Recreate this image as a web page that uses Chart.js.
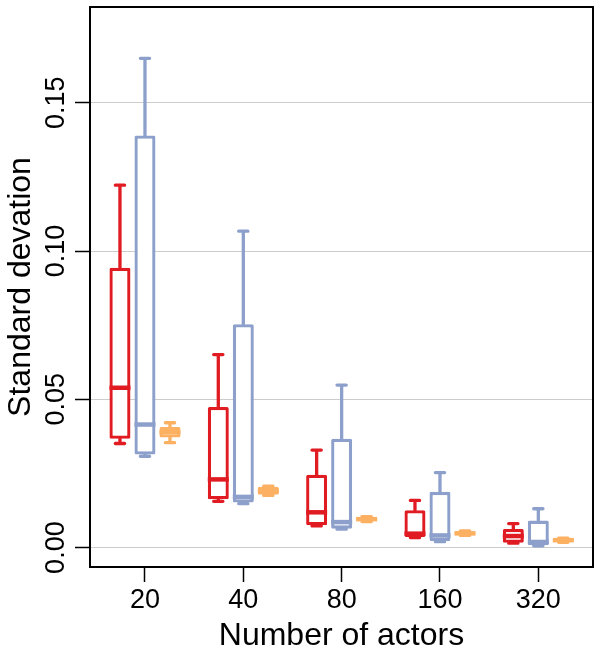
<!DOCTYPE html>
<html>
<head>
<meta charset="utf-8">
<script src="https://cdn.jsdelivr.net/npm/chart.js@4"></script>
<style>
  html, body { margin: 0; padding: 0; background: #ffffff; }
  #wrap { width: 600px; height: 659px; }
</style>
</head>
<body>
<div id="wrap"><canvas id="sdChart" width="600" height="659"></canvas></div>
<script>
var categories = ['20', '40', '80', '160', '320'];
var yTicks = [0, 0.05, 0.10, 0.15];

// red series
var redMin = [0.0351, 0.0156, 0.0073, 0.0034, 0.0015];
var redQ1 = [0.0367, 0.0163, 0.0075, 0.0036, 0.0016];
var redMed = [0.0539, 0.0230, 0.0119, 0.0047, 0.0039];
var redQ3 = [0.0944, 0.0474, 0.0246, 0.0126, 0.0063];
var redMax = [0.1222, 0.0651, 0.0329, 0.0159, 0.0081];

// blue series
var blueMin = [0.0308, 0.0148, 0.0062, 0.0020, 0.0006];
var blueQ1 = [0.0314, 0.0152, 0.0064, 0.0022, 0.0008];
var blueMed = [0.0415, 0.0171, 0.0086, 0.0041, 0.0019];
var blueQ3 = [0.1390, 0.0753, 0.0367, 0.0188, 0.0091];
var blueMax = [0.1650, 0.1067, 0.0548, 0.0253, 0.0131];

// orange series
var orangeMin = [0.0354, 0.0176, 0.0088, 0.0041, 0.0018];
var orangeQ1 = [0.0371, 0.0178, 0.0089, 0.0042, 0.0019];
var orangeMed = [0.0389, 0.0191, 0.0096, 0.0048, 0.0025];
var orangeQ3 = [0.0407, 0.0205, 0.0103, 0.0055, 0.0031];
var orangeMax = [0.0421, 0.0207, 0.0104, 0.0056, 0.0032];

var RED = '#E01B22';
var BLUE = '#8DA0CB';
var ORANGE = '#FCB062';

function boxData(q1, q3) {
  return q1.map(function(v, i) { return { x: i, y: [v, q3[i]] }; });
}

function boxDataset(color, min, q1, med, q3, max) {
  return {
    data: boxData(q1, q3),
    backgroundColor: '#ffffff',
    borderColor: color,
    borderWidth: 3.3,
    borderSkipped: false,
    borderRadius: 1.5,
    stats: { min: min, med: med, max: max },
    categoryPercentage: 0.763,
    barPercentage: 0.84
  };
}

// whiskers, caps and medians, positioned from the bar elements and y scale
var boxExtras = {
  id: 'boxExtras',
  afterDatasetsDraw: function(chart) {
    var ctx = chart.ctx;
    var yScale = chart.scales.y;
    chart.data.datasets.forEach(function(ds, di) {
      var meta = chart.getDatasetMeta(di);
      var stats = ds.stats;
      meta.data.forEach(function(el, i) {
        var p = el.getProps(['x', 'width'], true);
        var x = p.x;
        var w = p.width;
        var q1 = ds.data[i].y[0];
        var q3 = ds.data[i].y[1];
        var yMin = yScale.getPixelForValue(stats.min[i]);
        var yMax = yScale.getPixelForValue(stats.max[i]);
        var yQ1 = yScale.getPixelForValue(q1);
        var yQ3 = yScale.getPixelForValue(q3);
        var yMed = yScale.getPixelForValue(stats.med[i]);
        var capHalf = w * 0.22;

        ctx.save();
        ctx.strokeStyle = ds.borderColor;
        ctx.lineCap = 'round';
        ctx.lineWidth = 3.3;
        ctx.beginPath();
        ctx.moveTo(x, yQ3);
        ctx.lineTo(x, yMax);
        ctx.moveTo(x, yQ1);
        ctx.lineTo(x, yMin);
        ctx.moveTo(x - capHalf, yMax);
        ctx.lineTo(x + capHalf, yMax);
        ctx.moveTo(x - capHalf, yMin);
        ctx.lineTo(x + capHalf, yMin);
        ctx.stroke();

        ctx.lineCap = 'butt';
        ctx.lineWidth = 4.5;
        ctx.beginPath();
        ctx.moveTo(x - w / 2, yMed);
        ctx.lineTo(x + w / 2, yMed);
        ctx.stroke();
        ctx.restore();
      });
    });
  },
  afterDraw: function(chart) {
    var a = chart.chartArea;
    var ctx = chart.ctx;
    ctx.save();
    ctx.strokeStyle = '#000000';
    ctx.lineWidth = 2;
    ctx.strokeRect(a.left, a.top, a.right - a.left, a.bottom - a.top);
    ctx.restore();
  }
};

var fontFamily = '"Liberation Sans", Arial, sans-serif';

new Chart(document.getElementById('sdChart').getContext('2d'), {
  type: 'bar',
  data: {
    datasets: [
      boxDataset(RED, redMin, redQ1, redMed, redQ3, redMax),
      boxDataset(BLUE, blueMin, blueQ1, blueMed, blueQ3, blueMax),
      boxDataset(ORANGE, orangeMin, orangeQ1, orangeMed, orangeQ3, orangeMax)
    ]
  },
  options: {
    responsive: false,
    animation: false,
    layout: {
      padding: { top: 7, right: 7, left: 0, bottom: 0 }
    },
    plugins: {
      legend: { display: false },
      tooltip: { enabled: false }
    },
    scales: {
      x: {
        type: 'linear',
        offset: false,
        min: -0.559,
        max: 4.556,
        afterBuildTicks: function(scale) {
          scale.ticks = categories.map(function(c, i) { return { value: i }; });
        },
        afterFit: function(scale) {
          scale.height = 92;
          scale.paddingLeft = 0;
          scale.paddingRight = 0;
        },
        ticks: {
          color: '#000000',
          font: { family: fontFamily, size: 27 },
          padding: 2,
          maxRotation: 0,
          minRotation: 0,
          callback: function(value) { return categories[value]; }
        },
        grid: {
          offset: false,
          drawOnChartArea: false,
          tickLength: 15,
          tickColor: '#000000',
          tickWidth: 1.5
        },
        border: { display: false },
        title: {
          display: true,
          text: 'Number of actors',
          color: '#000000',
          font: { family: fontFamily, size: 32 },
          padding: { top: 0, bottom: 4 }
        }
      },
      y: {
        min: -0.00654,
        max: 0.1823,
        afterBuildTicks: function(scale) {
          scale.ticks = yTicks.map(function(v) { return { value: v }; });
        },
        afterFit: function(scale) {
          scale.width = 90;
          scale.paddingTop = 0;
          scale.paddingBottom = 0;
        },
        ticks: {
          color: '#000000',
          font: { family: fontFamily, size: 27 },
          minRotation: 90,
          maxRotation: 90,
          crossAlign: 'center',
          padding: -8,
          callback: function(value) { return value.toFixed(2); }
        },
        grid: {
          color: '#cccccc',
          lineWidth: 1,
          tickLength: 15,
          tickColor: '#000000',
          tickWidth: 1.5
        },
        border: { display: false },
        title: {
          display: true,
          text: 'Standard devation',
          color: '#000000',
          font: { family: fontFamily, size: 32 },
          padding: { top: 2, bottom: 0 }
        }
      }
    }
  },
  plugins: [boxExtras]
});
</script>
</body>
</html>
